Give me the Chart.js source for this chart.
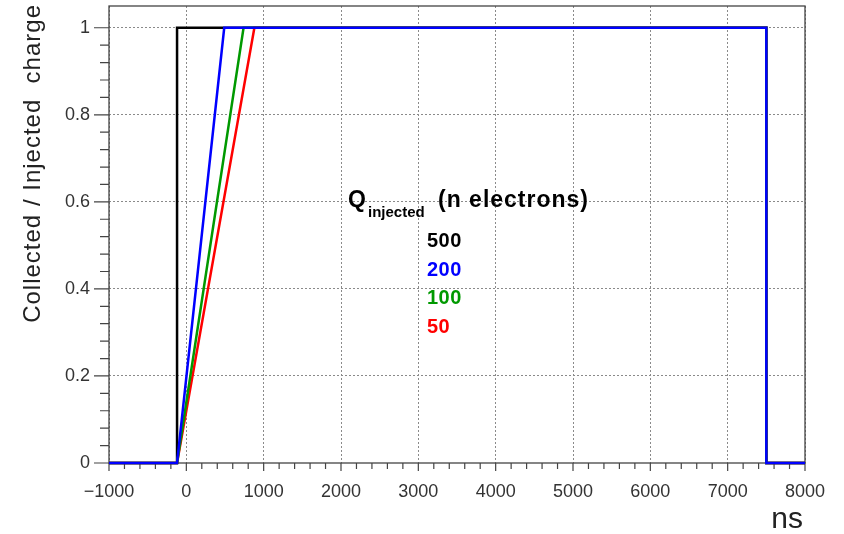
<!DOCTYPE html>
<html>
<head>
<meta charset="utf-8">
<script src="https://cdn.jsdelivr.net/npm/chart.js@4.4.1/dist/chart.umd.min.js"></script>
<style>
  html, body { margin: 0; padding: 0; background: #fff; }
  #wrap { width: 844px; height: 534px; }
</style>
</head>
<body>
<div id="wrap"><canvas id="charge-chart" width="844" height="534"></canvas></div>
<script>
// collected/injected charge vs time, one curve per injected charge
const chargeLabels = ["500", "200", "100", "50"];
const chargeColors = ["#000000", "#0000ff", "#009900", "#ff0000"];

// time (ns) and collected fraction at the corners of each curve
const t500 = [-1000, -120, -120, 7500, 7500, 8000];
const f500 = [0, 0, 1, 1, 0, 0];
const t200 = [-1000, -120, 490, 7500, 7500, 8000];
const f200 = [0, 0, 1, 1, 0, 0];
const t100 = [-1000, -120, 740, 7500, 7500, 8000];
const f100 = [0, 0, 1, 1, 0, 0];
const t50 = [-1000, -120, 880, 7500, 7500, 8000];
const f50 = [0, 0, 1, 1, 0, 0];

const xTicks = [-1000, 0, 1000, 2000, 3000, 4000, 5000, 6000, 7000, 8000];
const yTicks = [0, 0.2, 0.4, 0.6, 0.8, 1];

const FONT = "'Liberation Sans', Arial, Helvetica, sans-serif";

function pts(t, f) {
  return t.map((v, i) => ({ x: v, y: f[i] }));
}

// Chart.js paints the first dataset on top, so blue goes first
const series = [
  { i: 1, t: t200, f: f200 },
  { i: 2, t: t100, f: f100 },
  { i: 3, t: t50, f: f50 },
  { i: 0, t: t500, f: f500 },
];

const isMajorX = (v) => Math.abs(v % 1000) < 1e-6;
const isMajorY = (v) => Math.abs(v / 0.2 - Math.round(v / 0.2)) < 1e-6;

// axis frame, outer tick marks, titles and the Q_injected key
const rootStyle = {
  id: "rootStyle",
  beforeDatasetsDraw(chart) {
    const { ctx, chartArea: a, scales } = chart;
    ctx.save();
    ctx.strokeStyle = "#444";
    ctx.lineWidth = 1.3;
    ctx.strokeRect(a.left, a.top, a.right - a.left, a.bottom - a.top);
    ctx.lineWidth = 1.2;
    ctx.beginPath();
    for (let v = -1000; v <= 8000; v += 200) {
      const px = scales.x.getPixelForValue(v);
      const len = isMajorX(v) ? 8 : 6;
      ctx.moveTo(px, a.bottom);
      ctx.lineTo(px, a.bottom + len);
    }
    for (let k = 0; k <= 25; k++) {
      const v = k * 0.04;
      const py = scales.y.getPixelForValue(v);
      const len = k % 5 === 0 ? 15 : 9;
      ctx.moveTo(a.left, py);
      ctx.lineTo(a.left - len, py);
    }
    ctx.stroke();
    ctx.restore();
  },
  afterDraw(chart) {
    const { ctx } = chart;
    ctx.save();
    ctx.fillStyle = "#222";

    // y axis title
    ctx.save();
    ctx.translate(40, 4);
    ctx.rotate(-Math.PI / 2);
    ctx.font = "24px " + FONT;
    ctx.letterSpacing = "1px";
    ctx.textAlign = "right";
    ctx.textBaseline = "alphabetic";
    ctx.fillText("Collected / Injected  charge", 0, 0);
    ctx.restore();

    // x axis title
    ctx.font = "30px " + FONT;
    ctx.textAlign = "right";
    ctx.textBaseline = "alphabetic";
    ctx.fillText("ns", 803, 528);

    // key header
    ctx.fillStyle = "#000";
    ctx.textAlign = "left";
    ctx.letterSpacing = "1px";
    ctx.font = "bold 23px " + FONT;
    ctx.fillText("Q", 348, 207);
    ctx.font = "bold 15px " + FONT;
    ctx.letterSpacing = "0px";
    ctx.fillText("injected", 368, 217);
    ctx.letterSpacing = "1px";
    ctx.font = "bold 23px " + FONT;
    ctx.fillText("(n electrons)", 438, 207);

    ctx.letterSpacing = "0.5px";
    ctx.font = "bold 20px " + FONT;
    chargeLabels.forEach((lab, i) => {
      ctx.fillStyle = chargeColors[i];
      ctx.fillText(lab, 427, 247 + i * 28.5);
    });
    ctx.restore();
  },
};

document.addEventListener("DOMContentLoaded", function () {
  const ctx = document.getElementById("charge-chart").getContext("2d");
  new Chart(ctx, {
    type: "line",
    data: {
      datasets: series.map((s) => ({
        label: chargeLabels[s.i],
        data: pts(s.t, s.f),
        borderColor: chargeColors[s.i],
        backgroundColor: chargeColors[s.i],
        borderWidth: 2.5,
        pointRadius: 0,
        tension: 0,
        fill: false,
        clip: 4,
      })),
    },
    options: {
      responsive: false,
      animation: false,
      events: [],
      layout: { padding: { left: 0, top: 6, right: 39, bottom: 0 } },
      plugins: { legend: { display: false }, tooltip: { enabled: false } },
      scales: {
        x: {
          type: "linear",
          min: -1000,
          max: 8000,
          afterFit: (s) => {
            s.height = 71;
            s.paddingLeft = 0;
            s.paddingRight = 0;
          },
          ticks: {
            stepSize: 200,
            autoSkip: false,
            maxRotation: 0,
            padding: 18,
            color: "#333",
            font: { family: FONT, size: 18 },
            callback: (v) => (xTicks.includes(v) ? (v < 0 ? "\u2212" + Math.abs(v) : String(v)) : ""),
          },
          grid: {
            drawTicks: false,
            color: (c) => (c.tick && isMajorX(c.tick.value) ? "#8a8a8a" : "rgba(0,0,0,0)"),
            lineWidth: 1,
          },
          border: { display: false, dash: [2, 2] },
        },
        y: {
          type: "linear",
          min: 0,
          max: 1.05,
          afterFit: (s) => {
            s.width = 109;
            s.paddingTop = 0;
            s.paddingBottom = 0;
          },
          ticks: {
            stepSize: 0.04,
            autoSkip: false,
            padding: 19,
            color: "#333",
            font: { family: FONT, size: 18 },
            callback: (v) => {
              const r = Math.round(v * 10) / 10;
              return isMajorY(v) && yTicks.includes(r) ? String(r) : "";
            },
          },
          grid: {
            drawTicks: false,
            color: (c) => (c.tick && isMajorY(c.tick.value) && c.tick.value > 0.01 ? "#8a8a8a" : "rgba(0,0,0,0)"),
            lineWidth: 1,
          },
          border: { display: false, dash: [2, 2] },
        },
      },
    },
    plugins: [rootStyle],
  });
});
</script>
</body>
</html>
